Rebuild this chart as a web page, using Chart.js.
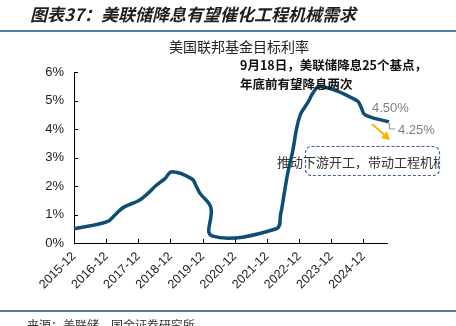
<!DOCTYPE html>
<html>
<head>
<meta charset="utf-8">
<script src="https://cdn.jsdelivr.net/npm/chart.js@4"></script>
<style>
html,body{margin:0;padding:0;background:#fff;}
#wrap{position:relative;width:456px;height:326px;}
canvas{display:block;}
</style>
</head>
<body>
<div id="wrap"><canvas id="c" width="456" height="326"></canvas></div>
<script>
// Fed funds target rate (upper bound), at each decision date
const rateDates = ['2015-12-01','2016-12-14','2017-03-15','2017-06-14','2017-12-13','2018-03-21','2018-06-13','2018-09-26','2018-12-19','2019-07-31','2019-09-18','2019-10-30','2020-03-03','2020-03-15','2022-03-16','2022-05-04','2022-06-15','2022-07-27','2022-09-21','2022-11-02','2022-12-14','2023-02-01','2023-03-22','2023-05-03','2023-07-26','2024-09-18','2024-11-07','2024-12-18','2025-09-17'];
const rateValues = [0.50,0.75,1.00,1.25,1.50,1.75,2.00,2.25,2.50,2.25,2.00,1.75,1.25,0.25,0.50,1.00,1.75,2.50,3.25,4.00,4.50,4.75,5.00,5.25,5.50,5.00,4.75,4.50,4.25];
const tickLabels = ['2015-12','2016-12','2017-12','2018-12','2019-12','2020-12','2021-12','2022-12','2023-12','2024-12'];
const yTickValues = [0,1,2,3,4,5,6];

const titleText = '图表37：美联储降息有望催化工程机械需求';
const chartTitle = '美国联邦基金目标利率';
const noteLines = ['9月18日，美联储降息25个基点，','年底前有望降息两次'];
const boxText = '推动下游开工，带动工程机械';
const labelA = '4.50%';
const labelB = '4.25%';
const sourceText = '来源：美联储，国金证券研究所';

function monthsSince(d){
  const [y,m,day] = d.split('-').map(Number);
  return (y-2015)*12 + (m-12) + (day-1)/30;
}
const points = rateDates.map((d,i)=>({x: monthsSince(d), y: rateValues[i]}));
const tickPositions = tickLabels.map(l=>monthsSince(l+'-01'));

const CJK = '"Noto Sans CJK SC","Noto Sans",sans-serif';
const LAT = '"Liberation Sans",Arial,sans-serif';

const deco = {
  id:'deco',
  beforeDraw(chart){
    const ctx = chart.ctx;
    ctx.save();
    ctx.fillStyle='#fff'; ctx.fillRect(0,0,chart.width,chart.height);
    ctx.restore();
  },
  afterDraw(chart){
    const ctx = chart.ctx;
    const xs = chart.scales.x, ys = chart.scales.y, a = chart.chartArea;
    ctx.save();
    // header title
    ctx.fillStyle='#1e1e1e';
    ctx.font='italic bold 17px '+CJK;
    ctx.textBaseline='middle'; ctx.textAlign='left';
    ctx.fillText(titleText,30,15);
    // rules
    ctx.fillStyle='#4f81a6';
    ctx.fillRect(0,30,456,2);
    ctx.fillRect(0,310,456,2);
    // chart title
    ctx.fillStyle='#222';
    ctx.font='14px '+CJK;
    ctx.textAlign='center';
    ctx.fillText(chartTitle,239,47);
    // inward ticks
    ctx.strokeStyle='#000'; ctx.lineWidth=1;
    ctx.beginPath();
    tickPositions.forEach(v=>{const x=Math.round(xs.getPixelForValue(v))+0.5; ctx.moveTo(x,a.bottom); ctx.lineTo(x,a.bottom-4);});
    yTickValues.forEach(v=>{const y=Math.round(ys.getPixelForValue(v))+0.5; ctx.moveTo(a.left,y); ctx.lineTo(a.left+4,y);});
    ctx.stroke();
    // note text
    ctx.fillStyle='#111';
    ctx.font='bold 12.5px '+CJK;
    ctx.textAlign='left';
    ctx.fillText(noteLines[0],240,65);
    ctx.fillText(noteLines[1],240,84);
    // end labels
    const meta = chart.getDatasetMeta(0).data;
    const last = meta[meta.length-1];
    ctx.fillStyle='#7f7f7f';
    ctx.font='13px '+LAT;
    ctx.fillText(labelA,372,108.5);
    ctx.fillText(labelB,398,130.5);
    // connector
    ctx.strokeStyle='#a6a6a6'; ctx.lineWidth=1.3;
    ctx.beginPath();
    ctx.moveTo(last.x+0.5,last.y+1);
    ctx.lineTo(last.x+0.5,last.y+7);
    ctx.lineTo(last.x+6,last.y+7);
    ctx.stroke();
    // arrow
    const ax0=last.x-17, ay0=last.y+2, ax1=last.x+1, ay1=last.y+18;
    ctx.strokeStyle='#f5b400'; ctx.fillStyle='#f5b400'; ctx.lineWidth=2;
    const ang=Math.atan2(ay1-ay0,ax1-ax0);
    ctx.beginPath(); ctx.moveTo(ax0,ay0); ctx.lineTo(ax1-6*Math.cos(ang),ay1-6*Math.sin(ang)); ctx.stroke();
    ctx.beginPath();
    ctx.moveTo(ax1,ay1);
    ctx.lineTo(ax1-8*Math.cos(ang)+4.5*Math.sin(ang), ay1-8*Math.sin(ang)-4.5*Math.cos(ang));
    ctx.lineTo(ax1-8*Math.cos(ang)-4.5*Math.sin(ang), ay1-8*Math.sin(ang)+4.5*Math.cos(ang));
    ctx.closePath(); ctx.fill();
    // dashed box
    ctx.strokeStyle='#3b5fa8'; ctx.lineWidth=1.2;
    ctx.setLineDash([3,2]);
    ctx.beginPath();
    if (ctx.roundRect) ctx.roundRect(305.5,146.5,134,29,6); else ctx.rect(305.5,146.5,134,29);
    ctx.stroke();
    ctx.setLineDash([]);
    // box text (clipped at box right edge)
    ctx.save();
    ctx.beginPath(); ctx.rect(0,140,439,40); ctx.clip();
    ctx.fillStyle='#333';
    ctx.font='13px '+CJK;
    ctx.fillText(boxText,277,162);
    ctx.restore();
    // source
    ctx.fillStyle='#333';
    ctx.font='12px '+CJK;
    ctx.textBaseline='top';
    ctx.fillText(sourceText,27,319);
    ctx.restore();
  }
};

new Chart(document.getElementById('c'),{
  type:'line',
  data:{datasets:[{
    data:points,
    borderColor:'#0f4d72',
    borderWidth:3.5,
    pointRadius:0,
    tension:0.4,
    fill:false,
    clip:false
  }]},
  options:{
    responsive:false,
    animation:false,
    events:[],
    layout:{padding:{top:72,right:69,left:0,bottom:0}},
    plugins:{legend:{display:false},tooltip:{enabled:false},title:{display:false}},
    scales:{
      x:{
        type:'linear',
        min:0,max:116.8,
        afterBuildTicks(s){ s.ticks = tickPositions.map(v=>({value:v})); },
        afterFit(s){ s.height = 83; },
        grid:{display:false,drawTicks:false},
        border:{display:true,color:'#000',width:1},
        ticks:{
          autoSkip:false,minRotation:45,maxRotation:45,padding:6,
          color:'#222',font:{family:'"Liberation Sans",Arial,sans-serif',size:12.5},
          callback(v){ const i = tickPositions.indexOf(v); return i>=0 ? tickLabels[i] : ''; }
        }
      },
      y:{
        min:0,max:6,
        afterBuildTicks(s){ s.ticks = yTickValues.map(v=>({value:v})); },
        afterFit(s){ s.width = 74; },
        grid:{display:false,drawTicks:false},
        border:{display:true,color:'#000',width:1},
        ticks:{padding:10,color:'#222',font:{family:'"Liberation Sans",Arial,sans-serif',size:13},
          callback(v){ return v+'%'; }}
      }
    }
  },
  plugins:[deco]
});
</script>
</body>
</html>
